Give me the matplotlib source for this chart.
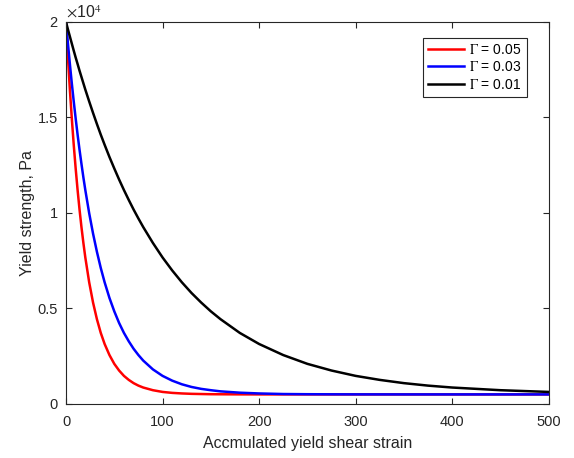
import matplotlib
matplotlib.use('Agg')
import matplotlib.pyplot as plt

plt.rcParams['font.family'] = ['Liberation Sans', 'DejaVu Sans']
plt.rcParams['mathtext.fontset'] = 'stix'

# accumulated yield shear strain (x) and yield strength in Pa
strain = [0, 2, 4, 6, 8, 10, 12, 14, 16, 18, 20, 24, 28, 32, 36, 40, 45, 50, 55,
          60, 65, 70, 75, 80, 90, 100, 110, 120, 130, 140, 150, 160, 180, 200,
          225, 250, 275, 300, 325, 350, 375, 400, 450, 500]
gamma_005 = [20000, 18140, 16460, 14950, 13570, 12330, 11200, 10180, 9260, 8430,
             7670, 6370, 5310, 4440, 3720, 3140, 2560, 2100, 1750, 1470, 1260,
             1090, 960, 860, 720, 630, 580, 550, 530, 520, 510, 507, 502, 500,
             500, 500, 500, 500, 500, 500, 500, 500, 500, 500]
gamma_003 = [20000, 18870, 17800, 16790, 15840, 14950, 14100, 13310, 12570, 11860,
             11200, 9990, 8920, 7970, 7120, 6370, 5550, 4850, 4240, 3720, 3280,
             2890, 2560, 2270, 1810, 1470, 1220, 1030, 890, 790, 720, 660, 590,
             550, 520, 510, 505, 502, 501, 500, 500, 500, 500, 500]
gamma_001 = [20000, 19610, 19240, 18870, 18500, 18140, 17800, 17450, 17120, 16790,
             16460, 15840, 15240, 14660, 14100, 13570, 12930, 12330, 11750, 11200,
             10680, 10180, 9710, 9260, 8430, 7670, 6990, 6370, 5810, 5310, 4850,
             4440, 3720, 3140, 2560, 2100, 1750, 1470, 1260, 1090, 960, 860, 720,
             630]
series_labels = [r'$\Gamma$ = 0.05', r'$\Gamma$ = 0.03', r'$\Gamma$ = 0.01']
y_ticks = [0, 5000, 10000, 15000, 20000]
y_ticklabels = ['0', '0.5', '1', '1.5', '2']
x_ticks = [0, 100, 200, 300, 400, 500]

fig = plt.figure(figsize=(5.74, 4.58), dpi=100)
ax = fig.add_axes([0.115, 0.118, 0.841, 0.834])

ax.plot(strain, gamma_005, color='#ff0000', lw=1.8, label=series_labels[0])
ax.plot(strain, gamma_003, color='#0000ff', lw=1.8, label=series_labels[1])
ax.plot(strain, gamma_001, color='#000000', lw=1.8, label=series_labels[2])

ax.set_xlim(0, 500)
ax.set_ylim(0, 20000)
ax.set_xticks(x_ticks)
ax.set_yticks(y_ticks)
ax.set_yticklabels(y_ticklabels)

tc = '#262626'
ax.tick_params(direction='in', top=True, right=True, length=4, width=0.8,
               colors=tc, labelsize=10.5, pad=6)
ax.tick_params(axis='x', pad=8)
for s in ax.spines.values():
    s.set_color(tc)
    s.set_linewidth(0.8)

ax.text(0.0, 1.003, r'$\times$10$^4$', transform=ax.transAxes, ha='left', va='bottom',
        fontsize=11.5, color=tc)

ax.set_xlabel('Accmulated yield shear strain', fontsize=11.5, color=tc, labelpad=5)
ax.set_ylabel('Yield strength, Pa', fontsize=11.5, color=tc, labelpad=2)

leg = ax.legend(loc='upper right', bbox_to_anchor=(0.954, 0.958), borderaxespad=0,
                fancybox=False, framealpha=1, edgecolor=tc, fontsize=10,
                handlelength=2.6, handletextpad=0.4, labelspacing=0.25,
                borderpad=0.35)
leg.get_frame().set_linewidth(0.8)

fig.savefig('out.png', dpi=100, facecolor='white')
